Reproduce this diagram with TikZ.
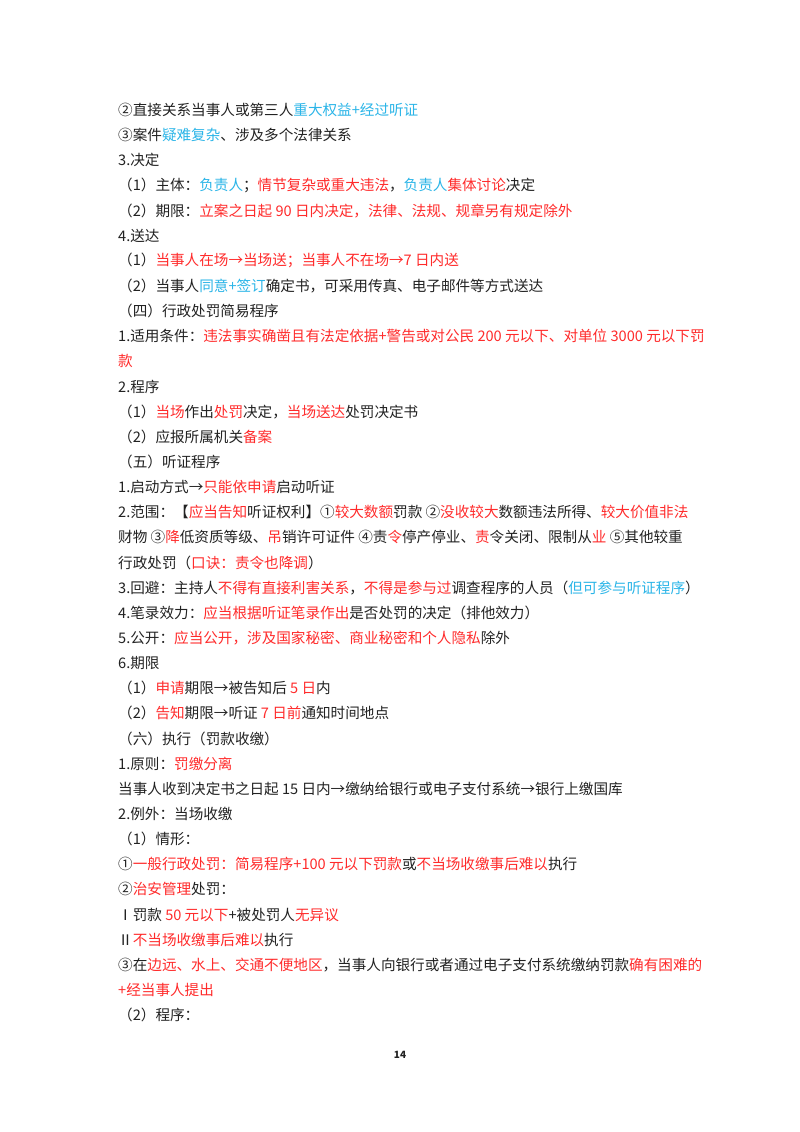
\documentclass[tikz,border=0pt]{standalone}
\usepackage{fontspec}
\setmainfont{Noto Sans CJK SC}
\definecolor{rd}{HTML}{FF2B2B}
\definecolor{bl}{HTML}{2BB5E8}
\definecolor{tx}{HTML}{222222}
\newcommand{\R}[1]{\textcolor{rd}{#1}}
\newcommand{\B}[1]{\textcolor{bl}{#1}}
\tikzset{ln/.style={anchor=west,inner sep=0pt,text=tx,font=\fontsize{14.6}{16}\selectfont}}
\begin{document}
\begin{tikzpicture}[x=1pt,y=-1pt]
\useasboundingbox[fill=white] (0,0) rectangle (800,1132);
\def\L{118}
\node[ln] (l1) at (\L,110) {②直接关系当事人或第三人\B{重大权益+经过听证}};
\node[ln] (l2) at (\L,135.1) {③案件\B{疑难复杂}、涉及多个法律关系};
\node[ln] (l3) at (\L,160.3) {3.决定};
\node[ln] (l4) at (\L,185.4) {（1）主体：\B{负责人}；\R{情节复杂或重大违法}，\B{负责人}\R{集体讨论}决定};
\node[ln] (l5) at (\L,210.6) {（2）期限：\R{立案之日起 90 日内决定，法律、法规、规章另有规定除外}};
\node[ln] (l6) at (\L,235.7) {4.送达};
\node[ln] (l7) at (\L,260.8) {（1）\R{当事人在场→当场送；当事人不在场→7 日内送}};
\node[ln] (l8) at (\L,286.0) {（2）当事人\B{同意+签订}确定书，可采用传真、电子邮件等方式送达};
\node[ln] (l9) at (\L,311.1) {（四）行政处罚简易程序};
\node[ln] (l10) at (\L,336.3) {1.适用条件：\R{违法事实确凿且有法定依据+警告或对公民 200 元以下、对单位 3000 元以下罚}};
\node[ln] (l11) at (\L,361.4) {\R{款}};
\node[ln] (l12) at (\L,386.5) {2.程序};
\node[ln] (l13) at (\L,411.7) {（1）\R{当场}作出\R{处罚}决定，\R{当场送达}处罚决定书};
\node[ln] (l14) at (\L,436.8) {（2）应报所属机关\R{备案}};
\node[ln] (l15) at (\L,462.0) {（五）听证程序};
\node[ln] (l16) at (\L,487.1) {1.启动方式→\R{只能依申请}启动听证};
\node[ln] (l17) at (\L,512.2) {2.范围：【\R{应当告知}听证权利】①\R{较大数额}罚款 ②\R{没收较大}数额违法所得、\R{较大价值非法}};
\node[ln] (l18) at (\L,537.4) {财物 ③\R{降}低资质等级、\R{吊}销许可证件 ④责\R{令}停产停业、\R{责}令关闭、限制从\R{业} ⑤其他较重};
\node[ln] (l19) at (\L,562.5) {行政处罚（\R{口诀：责令也降调}）};
\node[ln] (l20) at (\L,587.7) {3.回避：主持人\R{不得有直接利害关系}，\R{不得是参与过}调查程序的人员（\B{但可参与听证程序}）};
\node[ln] (l21) at (\L,612.8) {4.笔录效力：\R{应当根据听证笔录作出}是否处罚的决定（排他效力）};
\node[ln] (l22) at (\L,637.9) {5.公开：\R{应当公开，涉及国家秘密、商业秘密和个人隐私}除外};
\node[ln] (l23) at (\L,663.1) {6.期限};
\node[ln] (l24) at (\L,688.2) {（1）\R{申请}期限→被告知后 \R{5 日}内};
\node[ln] (l25) at (\L,713.4) {（2）\R{告知}期限→听证 \R{7 日前}通知时间地点};
\node[ln] (l26) at (\L,738.5) {（六）执行（罚款收缴）};
\node[ln] (l27) at (\L,763.6) {1.原则：\R{罚缴分离}};
\node[ln] (l28) at (\L,788.8) {当事人收到决定书之日起 15 日内→缴纳给银行或电子支付系统→银行上缴国库};
\node[ln] (l29) at (\L,813.9) {2.例外：当场收缴};
\node[ln] (l30) at (\L,839.1) {（1）情形：};
\node[ln] (l31) at (\L,864.2) {①\R{一般行政处罚：简易程序+100 元以下罚款}或\R{不当场收缴事后难以}执行};
\node[ln] (l32) at (\L,889.3) {②\R{治安管理}处罚：};
\node[ln] (l33) at (\L,914.5) {Ⅰ罚款 \R{50 元以下}+被处罚人\R{无异议}};
\node[ln] (l34) at (\L,939.6) {Ⅱ\R{不当场收缴事后难以}执行};
\node[ln] (l35) at (\L,964.8) {③在\R{边远、水上、交通不便地区}，当事人向银行或者通过电子支付系统缴纳罚款\R{确有困难的}};
\node[ln] (l36) at (\L,989.9) {\R{+经当事人提出}};
\node[ln] (l37) at (\L,1015) {（2）程序：};
\node[ln,anchor=center,font=\fontsize{10}{12}\selectfont\bfseries] (pg) at (400,1055) {14};
\end{tikzpicture}
\end{document}
